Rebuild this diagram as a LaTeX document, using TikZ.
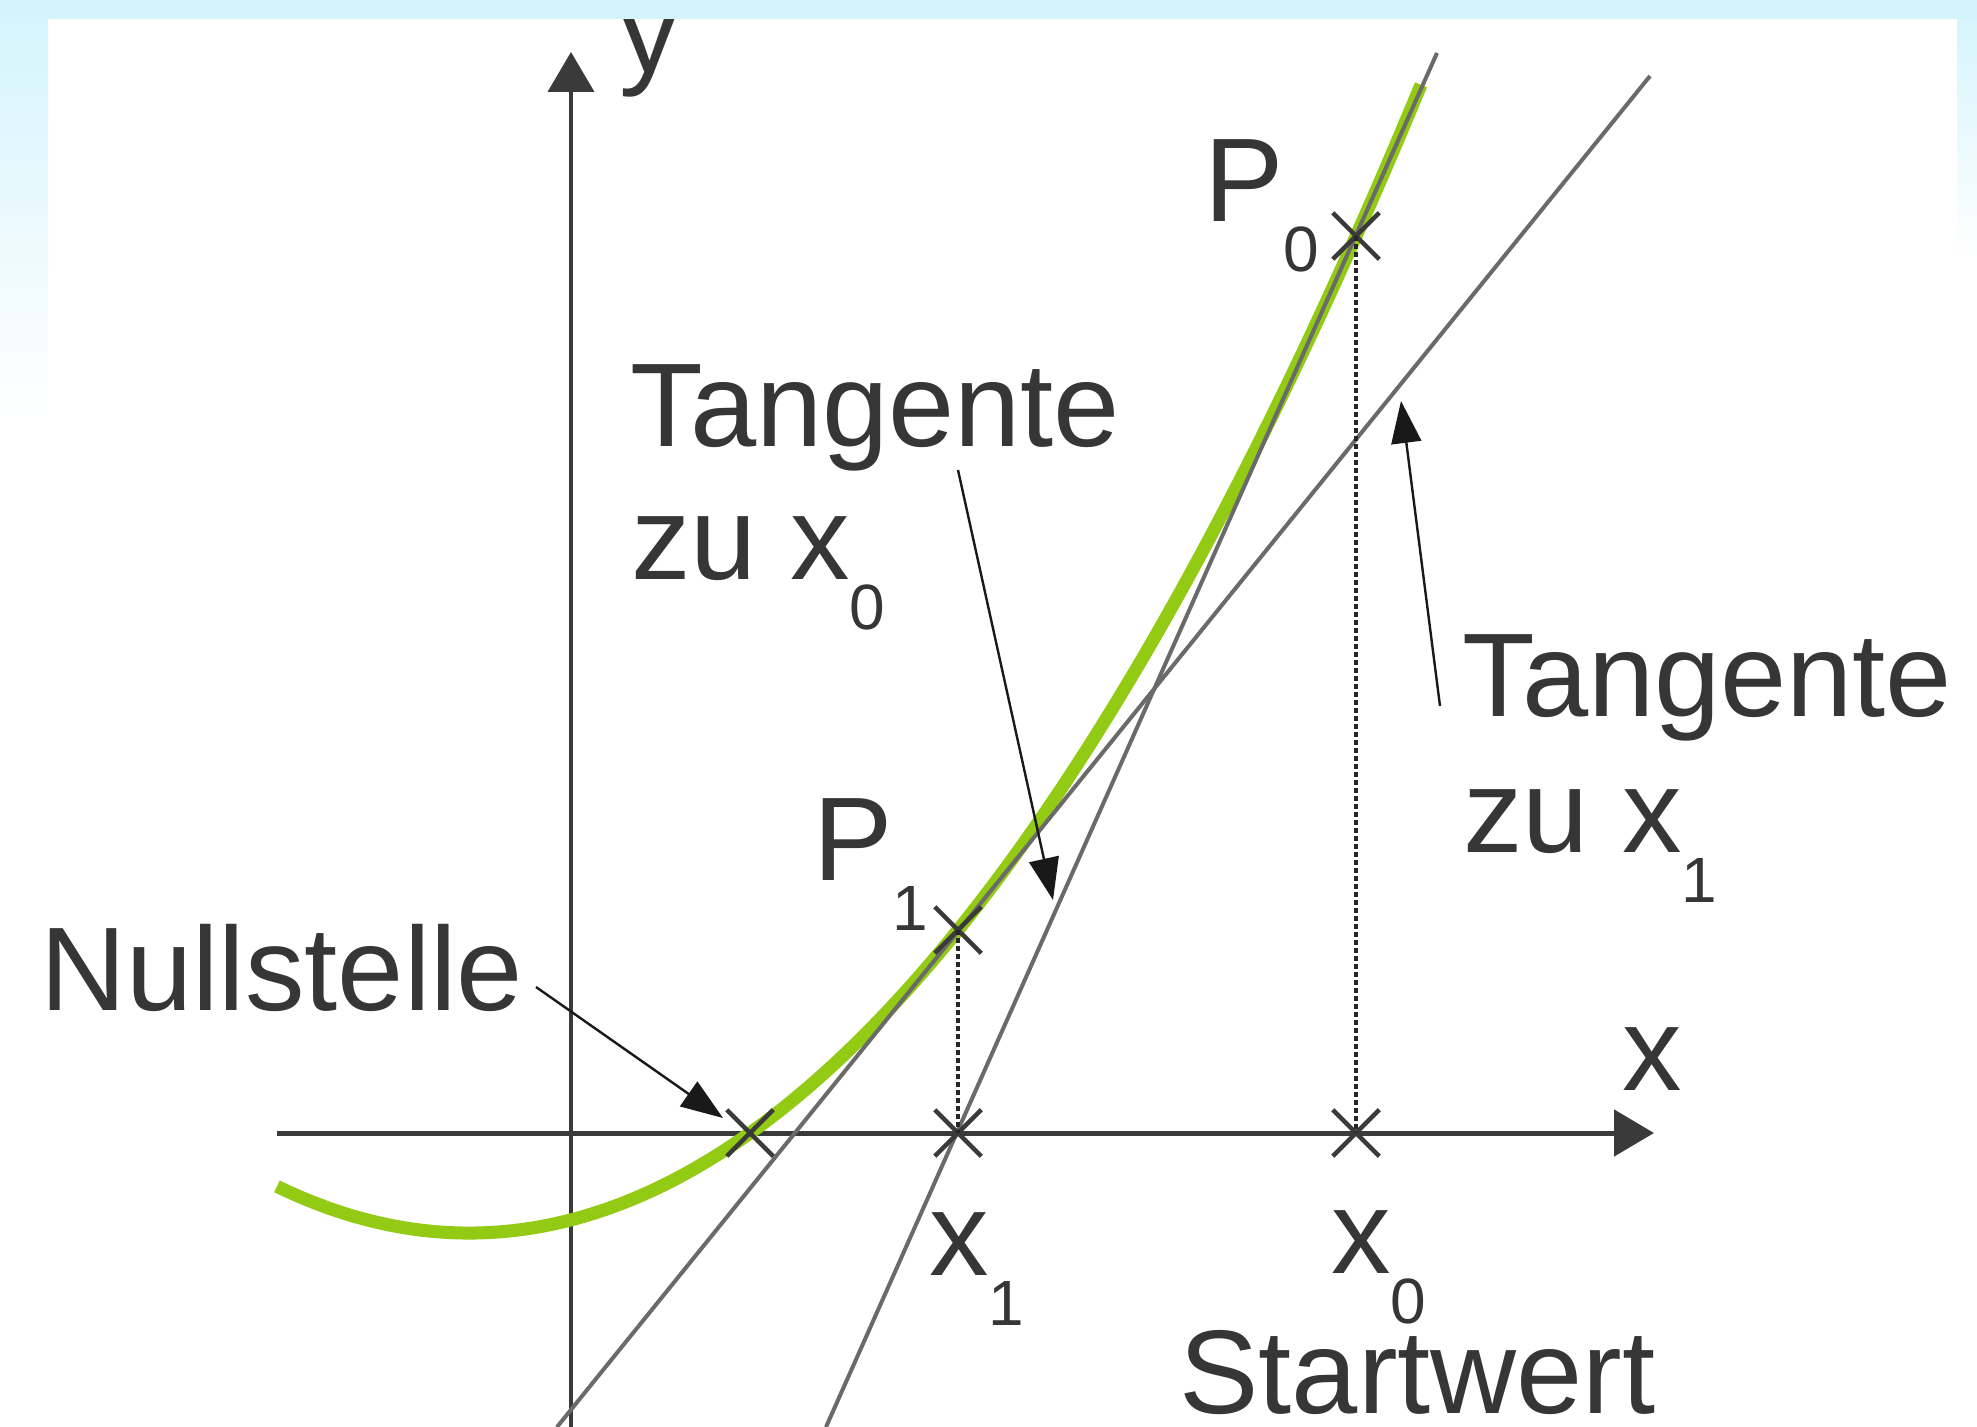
\documentclass[tikz,border=0pt]{standalone}
\usepackage{fontspec}
\setmainfont{Liberation Sans}
\usetikzlibrary{arrows.meta,shapes.misc}
\definecolor{txt}{HTML}{363636}
\definecolor{axisc}{HTML}{3A3A3A}
\definecolor{tang}{HTML}{6A6A6A}
\definecolor{fgreen}{RGB}{146,202,20}
\definecolor{skyb}{HTML}{D3F4FC}
\newcommand\lsub[1]{\raisebox{-25pt}{\fontsize{32}{36}\selectfont #1}}
\begin{document}
\begin{tikzpicture}[x=0.5pt,y=-0.5pt,
  lbl/.style={inner sep=0pt, anchor=base west, text=txt, font=\fontsize{59.5}{66}\selectfont},
  crossmark/.style={cross out, draw=axisc, line width=2.25pt, minimum size=21pt, inner sep=0pt},
  axisline/.style={draw=axisc, line width=2.5pt, -{Triangle[length=20pt,width=23pt]}},
  tangline/.style={draw=tang, line width=2pt},
  dropline/.style={draw=black!85, line width=2pt, dash pattern=on 2.5pt off 1.5pt},
  pointer/.style={draw=black!90, line width=1.2pt, -{Triangle[length=21pt,width=15pt]}},
  fcurve/.style={draw=fgreen, line width=6.5pt}
]
\useasboundingbox (0,0) rectangle (1977,1427);
% background
\fill[white] (0,0) rectangle (1977,1427);
\shade[top color=skyb, middle color=skyb!85, bottom color=white] (0,0) rectangle (48,420);
\shade[top color=skyb, middle color=skyb!60, bottom color=white] (1957,0) rectangle (1977,260);
% axes
\coordinate (xa) at (277,1133);
\coordinate (xb) at (1654,1133);
\coordinate (ya) at (571,1427);
\coordinate (yb) at (571,52);
\draw[axisline] (xa) -- (xb);
\draw[axisline, line width=2pt] (ya) -- (yb);
% function curve
\draw[fcurve] plot[domain=-4.73:6.71, samples=120, smooth] ({750+100*\x},{1133-71.21*\x-12.67*\x*\x});
% tangents
\coordinate (t1a) at (557,1427);
\coordinate (t1b) at (1650,76);
\coordinate (t0a) at (826,1427);
\coordinate (t0b) at (1437,53);
\draw[tangline] (t1a) -- (t1b);
\draw[tangline] (t0a) -- (t0b);
% marks
\node[crossmark] (root) at (750,1133) {};
\node[crossmark] (X1) at (958,1133) {};
\node[crossmark] (X0) at (1356,1133) {};
\node[crossmark] (P1m) at (958,930) {};
\node[crossmark] (P0m) at (1356,236) {};
\draw[dropline] (P0m.center) -- (X0.center);
\draw[dropline] (P1m.center) -- (X1.center);
% labels
\node[lbl] (tg0) at (630,447) {Tangente};
\node[lbl] (zu0) at (631,580) {zu x\lsub{0}};
\node[lbl] (tg1) at (1462,717) {Tangente};
\node[lbl] (zu1) at (1463,852) {zu x\lsub{1}};
\node[lbl] (p0l) at (1204,222) {P\lsub{0}};
\node[lbl] (p1l) at (813,880) {P\lsub{1}};
\node[lbl] (nul) at (40,1010) {Nullstelle};
\node[lbl] (xl) at (1622,1090) {x};
\node[lbl] (yl) at (619,73) {y};
\node[lbl] (x1l) at (929,1275) {x\lsub{1}};
\node[lbl] (x0l) at (1331,1273) {x\lsub{0}};
\node[lbl] (stw) at (1179,1413) {Startwert};
% pointers
\coordinate (n0) at (536,987);
\coordinate (n1) at (723,1118);
\coordinate (a0) at (958,470);
\coordinate (a1) at (1053,900);
\coordinate (b0) at (1440,706);
\coordinate (b1) at (1401,401);
\draw[pointer] (n0) -- (n1);
\draw[pointer] (a0) -- (a1);
\draw[pointer] (b0) -- (b1);
% top band
\fill[skyb] (0,0) rectangle (1977,19);
\end{tikzpicture}
\end{document}
